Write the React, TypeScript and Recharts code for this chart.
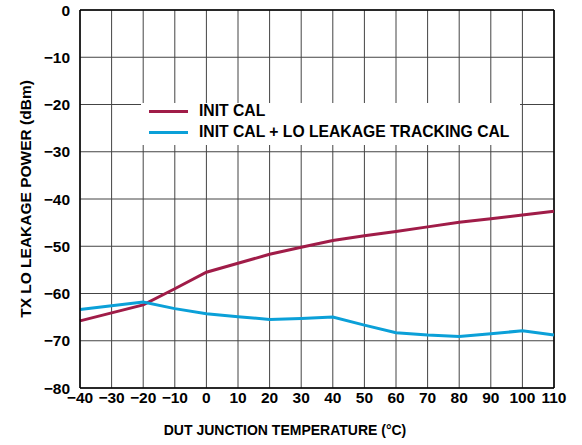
import React from 'react';
import { LineChart, Line, XAxis, YAxis, CartesianGrid, Legend, ReferenceLine, Label } from 'recharts';

const temperatures = [-40, -30, -20, -10, 0, 10, 20, 30, 40, 50, 60, 70, 80, 90, 100, 110];
const initCal = [-65.8, -64.1, -62.4, -59.0, -55.5, -53.6, -51.7, -50.2, -48.8, -47.8, -46.9, -45.9, -44.9, -44.2, -43.4, -42.6];
const trackingCal = [-63.4, -62.6, -61.8, -63.2, -64.3, -64.9, -65.5, -65.3, -65.0, -66.7, -68.3, -68.8, -69.1, -68.5, -67.9, -68.8];
const xTicks = [-40, -30, -20, -10, 0, 10, 20, 30, 40, 50, 60, 70, 80, 90, 100, 110];
const yTicks = [0, -10, -20, -30, -40, -50, -60, -70, -80];
const seriesNames = ['INIT CAL', 'INIT CAL + LO LEAKAGE TRACKING CAL'];
const xTitle = 'DUT JUNCTION TEMPERATURE (°C)';
const yTitle = 'TX LO LEAKAGE POWER (dBm)';

const RED = '#A01C48';
const BLUE = '#0BA0D8';
const FONT = '"Liberation Sans", Arial, Helvetica, sans-serif';

const data = temperatures.map((t, i) => ({ t, init: initCal[i], track: trackingCal[i] }));

const fmt = (v: number) => (v < 0 ? '\u2212' + Math.abs(v) : String(v));

const LegendBox = () => (
  <div style={{ background: '#fff', width: 379, height: 42, position: 'relative', fontFamily: FONT, fontWeight: 'bold', fontSize: 15.7, color: '#000' }}>
    {[RED, BLUE].map((c, i) => (
      <div key={i} style={{ position: 'absolute', left: 8, top: i * 21, height: 16, display: 'flex', alignItems: 'center', whiteSpace: 'nowrap' }}>
        <div style={{ width: 39, height: 3, background: c, marginRight: 11 }} />
        <span style={{ lineHeight: '16px' }}>{seriesNames[i]}</span>
      </div>
    ))}
  </div>
);

export default function App() {
  return (
    <div style={{ position: 'absolute', left: 0, top: 0, background: '#fff' }}>
      <LineChart width={582} height={445} data={data} margin={{ top: 10, right: 28, bottom: 0, left: 0 }}>
        <CartesianGrid stroke="#444" strokeWidth={1} />
        <XAxis
          dataKey="t"
          type="number"
          domain={[-40, 110]}
          ticks={xTicks}
          tickFormatter={fmt}
          interval={0}
          height={57}
          tickLine={false}
          tickSize={0}
          tickMargin={4}
          axisLine={{ stroke: '#000', strokeWidth: 1.5 }}
          tick={{ fill: '#000', fontSize: 15.5, fontWeight: 'bold', fontFamily: FONT }}
        >
          <Label
            content={(props: any) => {
              const vb = props.viewBox || {};
              return (
                <text x={285} y={vb.y + vb.height - 10} textAnchor="middle" fill="#000" fontSize={14} fontWeight="bold" fontFamily={FONT}>
                  {xTitle}
                </text>
              );
            }}
          />
        </XAxis>
        <YAxis
          type="number"
          domain={[-80, 0]}
          ticks={yTicks}
          tickFormatter={fmt}
          interval={0}
          width={80}
          tickLine={false}
          tickSize={0}
          tickMargin={10}
          axisLine={{ stroke: '#000', strokeWidth: 1.5 }}
          tick={{ fill: '#000', fontSize: 15.5, fontWeight: 'bold', fontFamily: FONT }}
        >
          <Label
            content={(props: any) => {
              const vb = props.viewBox || {};
              const cy = vb.y + vb.height / 2;
              return (
                <text x={31} y={cy} transform={`rotate(-90, 31, ${cy})`} textAnchor="middle" fill="#000" fontSize={15.5} fontWeight="bold" fontFamily={FONT}>
                  {yTitle}
                </text>
              );
            }}
          />
        </YAxis>
        <ReferenceLine y={0} stroke="#000" strokeWidth={1.5} />
        <ReferenceLine x={110} stroke="#000" strokeWidth={1.5} />
        <Legend
          layout="vertical"
          align="center"
          verticalAlign="middle"
          wrapperStyle={{ left: 141, top: 103, width: 379, height: 42 }}
          content={() => <LegendBox />}
        />
        <Line type="linear" dataKey="init" stroke={RED} strokeWidth={3} dot={false} isAnimationActive={false} />
        <Line type="linear" dataKey="track" stroke={BLUE} strokeWidth={3} dot={false} isAnimationActive={false} />
      </LineChart>
    </div>
  );
}
